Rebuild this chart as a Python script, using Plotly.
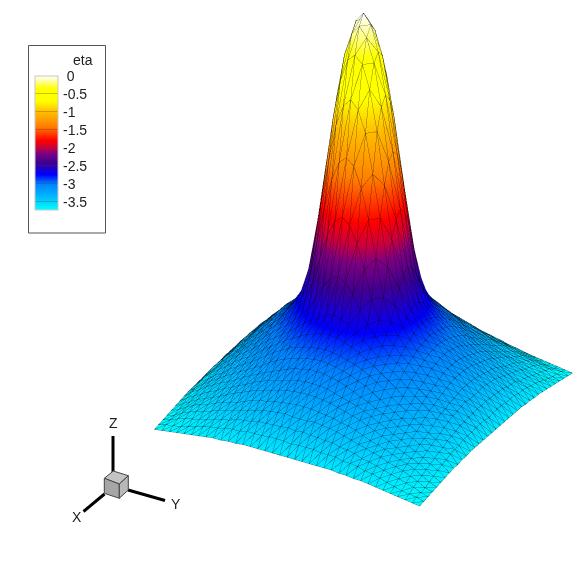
import plotly.graph_objects as go

ETA_ROWS = [
  [0.0],
  [-0.09, -0.18],
  [-0.33, -0.40, -0.62],
  [-0.72, -0.80, -1.00, -1.37],
  [-1.24, -1.30, -1.49, -1.77, -2.12],
  [-1.77, -1.83, -1.98, -2.21, -2.47, -2.65],
  [-2.30, -2.34, -2.43, -2.56, -2.68, -2.77, -2.84],
  [-2.63, -2.65, -2.69, -2.74, -2.79, -2.85, -2.91, -2.96],
  [-2.79, -2.79, -2.82, -2.84, -2.88, -2.92, -2.96, -3.01, -3.06],
  [-2.89, -2.90, -2.91, -2.93, -2.95, -2.98, -3.02, -3.06, -3.11, -3.16],
  [-2.96, -2.97, -2.98, -3.00, -3.02, -3.05, -3.08, -3.12, -3.17, -3.21, -3.25],
  [-3.03, -3.03, -3.05, -3.06, -3.09, -3.12, -3.15, -3.18, -3.22, -3.25, -3.29, -3.33],
  [-3.11, -3.11, -3.12, -3.14, -3.16, -3.18, -3.20, -3.23, -3.26, -3.30, -3.33, -3.37, -3.40],
  [-3.18, -3.18, -3.19, -3.20, -3.22, -3.24, -3.26, -3.28, -3.31, -3.34, -3.37, -3.40, -3.44, -3.47],
  [-3.26, -3.26, -3.27, -3.28, -3.29, -3.31, -3.32, -3.34, -3.37, -3.40, -3.42, -3.44, -3.47, -3.50, -3.52],
  [-3.34, -3.34, -3.33, -3.34, -3.35, -3.36, -3.38, -3.40, -3.42, -3.44, -3.46, -3.48, -3.51, -3.53, -3.55, -3.58],
  [-3.42, -3.41, -3.42, -3.42, -3.43, -3.43, -3.45, -3.46, -3.47, -3.50, -3.51, -3.53, -3.55, -3.57, -3.59, -3.61, -3.63],
  [-3.51, -3.50, -3.50, -3.50, -3.51, -3.51, -3.51, -3.53, -3.53, -3.54, -3.56, -3.57, -3.59, -3.61, -3.63, -3.65, -3.66, -3.67],
  [-3.60, -3.60, -3.60, -3.60, -3.60, -3.60, -3.60, -3.61, -3.61, -3.62, -3.62, -3.63, -3.64, -3.65, -3.66, -3.67, -3.68, -3.69, -3.70],
]

ETA_TICKS = [0, -0.5, -1, -1.5, -2, -2.5, -3, -3.5]
ETA_LABELS = ["\u200a&nbsp;0", "\u200a-0.5", "\u200a-1", "\u200a-1.5", "\u200a-2", "\u200a-2.5", "\u200a-3", "\u200a-3.5"]
ETA_MIN = -3.73
ETA_MAX = 0

COLOR_ETA = [-3.73, -3.4, -3.0, -2.75, -2.4, -2.15, -2.0, -1.8, -1.4, -1.0, -0.7, -0.35, -0.18, 0]
COLOR_RGB = ['#00ffff', '#00c0ff', '#0080ff', '#0000ff', '#400090', '#800080', '#c80040', '#ff0000',
             '#ff8000', '#ffbe00', '#ffff00', '#ffff00', '#ffff80', '#ffffff']

FONT = "Liberation Sans, Arial, sans-serif"
LINE_COLOR = 'rgba(0,0,0,0.44)'

K = 2.2
CENTER = (0.2553, -0.1305, -0.269)
VIEW = (0.749, 0.432, 0.502)
SCALE = 1.045
Z_ASPECT = 1.466 * SCALE
# edges sit towards the viewer so the surface does not swallow them
LIFT = 0.03

N = len(ETA_ROWS) - 1
idx = list(range(-N, N + 1))


def node(a, b):
  return (a + N) * (2 * N + 1) + (b + N)


def eta_at(a, b):
  a, b = abs(a), abs(b)
  return ETA_ROWS[max(a, b)][min(a, b)]


xs, ys, zs = [], [], []
for a in idx:
  for b in idx:
    xs.append(a / N)
    ys.append(b / N)
    zs.append(eta_at(a, b))

tri_i, tri_j, tri_k = [], [], []
for a in idx[:-1]:
  for b in idx[:-1]:
    # diagonal runs along x - y, which is almost flat on the page
    tri_i += [node(a, b), node(a + 1, b)]
    tri_j += [node(a + 1, b), node(a + 1, b + 1)]
    tri_k += [node(a, b + 1), node(a, b + 1)]

lx, ly, lz = [], [], []


def add_edge_path(points):
  for a, b in points:
    lx.append(a / N + LIFT * VIEW[0] * 2 / SCALE)
    ly.append(b / N + LIFT * VIEW[1] * 2 / SCALE)
    lz.append(eta_at(a, b) + LIFT * VIEW[2] * 3.7 / Z_ASPECT)
  lx.append(None)
  ly.append(None)
  lz.append(None)


for a in idx:
  add_edge_path([(a, b) for b in idx])
  add_edge_path([(b, a) for b in idx])
for s in range(-2 * N, 2 * N + 1):
  add_edge_path([(a, s - a) for a in idx if -N <= s - a <= N])

colorscale = [[(e - ETA_MIN) / (ETA_MAX - ETA_MIN), c] for e, c in zip(COLOR_ETA, COLOR_RGB)]

fig = go.Figure()
fig.add_trace(go.Mesh3d(
  x=xs, y=ys, z=zs, i=tri_i, j=tri_j, k=tri_k,
  intensity=zs, colorscale=colorscale, cmin=ETA_MIN, cmax=ETA_MAX,
  lighting=dict(ambient=1, diffuse=0, specular=0, fresnel=0),
  hoverinfo="skip",
  colorbar=dict(
    x=34.5 / 586, xanchor="left", xpad=0,
    y=1 - 76 / 586, yanchor="top", ypad=0,
    lenmode="pixels", len=134, thicknessmode="pixels", thickness=23,
    outlinecolor="#c8c8c8", outlinewidth=1,
    tickmode="array", tickvals=ETA_TICKS, ticktext=ETA_LABELS,
    ticks="inside", ticklen=23, tickcolor="rgba(90,60,0,0.3)", tickwidth=1,
    tickfont=dict(family=FONT, size=14, color="#222222"),
  ),
))
fig.add_trace(go.Scatter3d(
  x=lx, y=ly, z=lz, mode="lines",
  line=dict(color=LINE_COLOR, width=1),
  hoverinfo="skip", showlegend=False,
))

hidden = dict(visible=False, showgrid=False, zeroline=False, showbackground=False)
fig.update_layout(
  width=586, height=586,
  margin=dict(l=0, r=0, t=0, b=0),
  paper_bgcolor="white",
  scene=dict(
    domain=dict(x=[0, 1], y=[0, 1]),
    xaxis=dict(range=[-1.1, 1.1], **hidden),
    yaxis=dict(range=[-1.1, 1.1], **hidden),
    zaxis=dict(range=[-3.7, 0.1], **hidden),
    aspectmode="manual",
    aspectratio=dict(x=1.1 * SCALE, y=1.1 * SCALE, z=Z_ASPECT * 3.8 / 3.7),
    camera=dict(
      projection=dict(type="orthographic"),
      up=dict(x=0, y=0, z=1),
      center=dict(x=CENTER[0], y=CENTER[1], z=CENTER[2]),
      eye=dict(x=CENTER[0] + K * VIEW[0], y=CENTER[1] + K * VIEW[1], z=CENTER[2] + K * VIEW[2]),
    ),
  ),
)


# legend box and axis triad are drawn in page pixels
def px(x):
  return x / 586


def py(y):
  return 1 - y / 586


def poly_path(points):
  return "M " + " L ".join(f"{px(x)} {py(y)}" for x, y in points) + " Z"


fig.add_shape(type="rect", xref="paper", yref="paper", x0=px(28.5), x1=px(105.5), y0=py(45.5), y1=py(233),
              line=dict(color="#555555", width=1), layer="below")

TRIAD_LINES = [((113, 436), (113, 472)), ((104.5, 494), (83.5, 511.5)), ((128, 490), (165, 500.5))]
for (x0, y0), (x1, y1) in TRIAD_LINES:
  fig.add_shape(type="line", xref="paper", yref="paper", x0=px(x0), y0=py(y0), x1=px(x1), y1=py(y1),
                line=dict(color="black", width=3))

CUBE_FACES = [
  ([(113.3, 471), (128.3, 475.7), (119.3, 484), (104.3, 478.3)], "#c4c4c4"),
  ([(104.3, 478.3), (119.3, 484), (119.3, 498.3), (104.3, 493.3)], "#a6a6a6"),
  ([(119.3, 484), (128.3, 475.7), (128.3, 490), (119.3, 498.3)], "#b8b8b8"),
]
for pts, col in CUBE_FACES:
  fig.add_shape(type="path", xref="paper", yref="paper", path=poly_path(pts), fillcolor=col,
                line=dict(color="#444444", width=1))

TEXTS = [("eta", 83, 60), ("Z", 113, 423), ("X", 76.5, 517), ("Y", 176, 504)]
for t, x, y in TEXTS:
  fig.add_annotation(text=t, xref="paper", yref="paper", x=px(x), y=py(y), showarrow=False,
                     xanchor="center", yanchor="middle", font=dict(family=FONT, size=14, color="#222222"))

fig.write_html("out.html", config=dict(displayModeBar=False), post_script="document.body.style.margin = '0';")
